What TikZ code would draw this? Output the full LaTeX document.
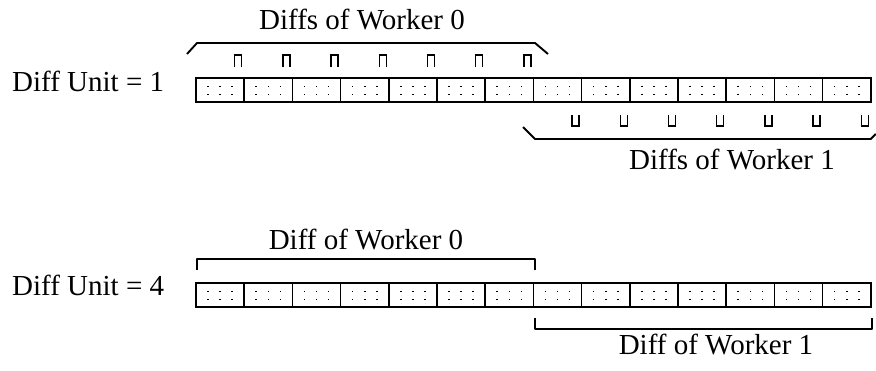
\documentclass[tikz,border=0pt]{standalone}
\usepackage{fontspec}
\setmainfont{Liberation Serif}
\usetikzlibrary{calc}
\begin{document}
\begin{tikzpicture}[x=1pt,y=1pt,
  cell/.style={draw, line width=1.5pt, minimum width=48.2pt, minimum height=24pt, inner sep=0pt, outer sep=0pt},
  frame/.style={line width=2.6pt},
  brace/.style={line width=1.9pt, line join=round},
  diffmark/.style={line width=1.3pt},
  word/.style={line width=1.6pt, dash pattern=on 1.4pt off 6.6pt},
  lbl/.style={font=\fontsize{29}{34}\selectfont, inner sep=0pt}]
\useasboundingbox (0,0) rectangle (876,-371);

% two rows of 14 pages
\foreach \i in {0,...,13}{
  \node[cell] (a\i) at ({196+48.2*\i+24.1}, -90) {};
  \node[cell] (b\i) at ({196+48.2*\i+24.1}, -295) {};
}
% dotted word boundaries inside each page
\foreach \r in {a,b}{
  \foreach \i in {0,...,13}{
    \foreach \k in {1,2,3}{
      \draw[word] ($(\r\i.north west)!\k/4!(\r\i.north east)$) -- ($(\r\i.south west)!\k/4!(\r\i.south east)$);
    }
  }
}
\draw[frame] (a0.north west) rectangle (a13.south east);
\draw[frame] (b0.north west) rectangle (b13.south east);

% per-page diff markers, unit = 1
\foreach \i in {0,...,6}{
  \draw[diffmark] ($(a\i.north east)+(-9.5,11)$) -- ++(0,12) -- ++(7,0) -- ++(0,-12);
}
\foreach \i in {7,...,13}{
  \draw[diffmark] ($(a\i.south east)+(-9.5,-13)$) -- ++(0,-11) -- ++(7,0) -- ++(0,11);
}

% grouping brackets, unit = 1
\draw[brace] ($(a0.north west)+(-9,24)$) -- ($(a0.north west)+(1,35)$)
  -- ($(a6.north east)+(1.6,35)$) -- ($(a6.north east)+(14.6,24)$);
\draw[brace] ($(a7.south west)+(-10.4,-25)$) -- ($(a7.south west)+(1.6,-37)$)
  -- ($(a13.south east)+(0,-37)$) -- ($(a13.south east)+(5,-32)$);

% grouping brackets, unit = 4
\draw[brace] ($(b0.north west)+(1,13)$) -- ($(b0.north west)+(1,24)$)
  -- ($(b6.north east)+(1.6,24)$) -- ($(b6.north east)+(1.6,13)$);
\draw[brace] ($(b7.south west)+(1.6,-11)$) -- ($(b7.south west)+(1.6,-22)$)
  -- ($(b13.south east)+(1,-22)$) -- ($(b13.south east)+(1,-11)$);

% labels
\node[lbl] (w0a) at (362,-20) {Diffs of Worker 0};
\node[lbl] (w1a) at (732,-160) {Diffs of Worker 1};
\node[lbl, anchor=base west] (u1) at (12,-92) {Diff Unit = 1};
\node[lbl] (w0b) at (366,-240) {Diff of Worker 0};
\node[lbl] (w1b) at (716,-345) {Diff of Worker 1};
\node[lbl, anchor=base west] (u4) at (12,-296) {Diff Unit = 4};
\end{tikzpicture}
\end{document}
